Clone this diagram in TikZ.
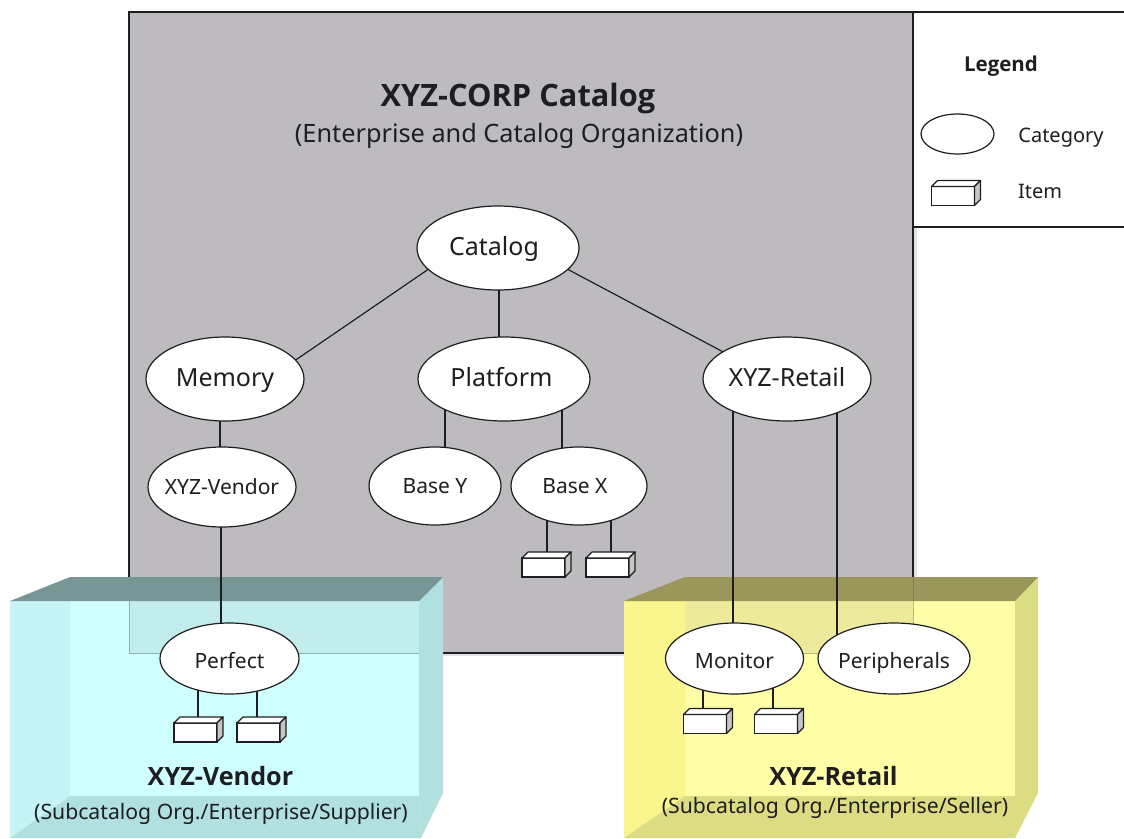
\documentclass[tikz,border=0pt]{standalone}
\usepackage{fontspec}
\setmainfont{Noto Sans}
\newfontfamily\boldface{Open Sans}
\usetikzlibrary{shapes.geometric}
\pgfdeclarelayer{boxes}
\pgfdeclarelayer{conn}
\pgfsetlayers{boxes,conn,main}
\definecolor{ink}{HTML}{1E1E22}
\definecolor{panel}{HTML}{BDBBBE}
\definecolor{cyMain}{HTML}{D0FFFF}
\definecolor{cyLeft}{HTML}{C4F4F5}
\definecolor{cySide}{HTML}{B0E0E0}
\definecolor{cyTop}{HTML}{789696}
\definecolor{cyOver}{HTML}{C3ECEC}
\definecolor{yeMain}{HTML}{FFFFA8}
\definecolor{yeLeft}{HTML}{FAF58C}
\definecolor{yeSide}{HTML}{DCDC82}
\definecolor{yeTop}{HTML}{999759}
\definecolor{yeOver}{HTML}{EDEB9B}
\tikzset{
  cat/.style={ellipse,draw=ink,line width=1.2pt,fill=white,inner sep=0pt,outer sep=0pt,text=ink},
  big/.style={cat,font=\fontsize{25}{28}\selectfont,text height=14pt,text depth=0pt},
  small/.style={cat,font=\fontsize{21}{24}\selectfont,text height=14pt,text depth=0pt},
  low/.style={small,text height=19pt},
  front/.style={rectangle,draw=ink,line width=1.2pt,fill=white,inner sep=0pt,outer sep=0pt,minimum width=43pt,minimum height=19pt},
  link/.style={draw=ink,line width=1.2pt},
  lbl/.style={inner sep=0pt,text=ink,font=\fontsize{21}{24}\selectfont},
  heading/.style={inner sep=0pt,text=ink},
}
\newcommand{\tx}[1]{\makebox[0pt][c]{#1}}
\newcommand{\itembox}[3]{%
  \node[front] (#1) at (#2,#3) {};
  \draw[ink,line width=1.2pt,fill=white,line join=round] (#1.north west) -- ++(6,-6) -- ++(43,0) -- (#1.north east) -- cycle;
  \draw[ink,line width=1.2pt,fill=gray!45,line join=round] (#1.north east) -- ++(6,-6) -- ++(0,19) -- (#1.south east) -- cycle;
}
\begin{document}
\begin{tikzpicture}[x=1pt,y=-1pt]
\useasboundingbox (0,0) rectangle (1124,838);
\begin{pgfonlayer}{boxes}
  \fill[white] (0,0) rectangle (1124,838);
  \fill[gray!22] (135,653) rectangle (917,656);
  \fill[gray!22] (913,227) rectangle (917,600);
  \fill[panel] (129,12) rectangle (913,653);
  \draw[ink,line width=1.2pt] (129,12) rectangle (913,653);
  \draw[ink,line width=1.2pt] (913,12) -- (1124,12) (913,227) -- (1124,227);
  % cyan box
  \fill[cyMain] (70,601) rectangle (419,796);
  \fill[cyOver] (129,601) rectangle (419,653);
  \draw[cyTop!70!cyOver,line width=0.8pt] (129,601) -- (129,653) -- (419,653);
  \fill[cyLeft] (10,601) -- (70,601) -- (70,796) -- (10,838) -- cycle;
  \fill[cySide] (10,838) -- (70,796) -- (419,796) -- (421,838) -- cycle;
  \fill[cySide] (419,601) -- (443,577) -- (443,793) -- (421,838) -- (419,796) -- cycle;
  \fill[cyTop] (10,601) -- (70,577) -- (443,577) -- (419,601) -- cycle;
  % yellow box
  \fill[yeMain] (685,601) rectangle (1015,796);
  \fill[yeOver] (685,601) rectangle (913,653);
  \draw[yeTop!60!yeOver,line width=0.8pt] (685,653) -- (913,653) -- (913,601);
  \fill[yeLeft] (624,601) -- (685,601) -- (685,796) -- (624,838) -- cycle;
  \fill[yeSide] (624,838) -- (685,796) -- (1015,796) -- (1015,838) -- cycle;
  \fill[yeSide] (1015,601) -- (1038,577) -- (1038,793) -- (1015,838) -- cycle;
  \fill[yeTop] (624,601) -- (685,577) -- (1038,577) -- (1015,601) -- cycle;
  \draw[yeTop!85!black,line width=0.8pt] (913,577) -- (913,601);
\end{pgfonlayer}

\node[heading,font=\boldface\fontsize{30.8}{36}\selectfont\bfseries] (title) at (518,98) {XYZ-CORP Catalog};
\node[lbl,font=\fontsize{25.3}{28}\selectfont] (subtitle) at (519,136) {(Enterprise and Catalog Organization)};

\node[big,minimum width=162pt,minimum height=84pt] (catalog) at (498,248) {\tx{Catalog\hspace*{8pt}}};
\node[big,minimum width=158pt,minimum height=84pt] (memory) at (225,379) {\tx{Memory}};
\node[big,minimum width=172pt,minimum height=84pt] (platform) at (504,379) {\tx{Platform\hspace*{5pt}}};
\node[big,minimum width=168pt,minimum height=84pt] (retail) at (787,379) {\tx{XYZ-Retail}};
\node[small,minimum width=148pt,minimum height=80pt] (vendor) at (222,487) {\tx{XYZ-Vendor}};
\node[small,minimum width=132pt,minimum height=78pt] (basey) at (435,486) {\tx{Base Y}};
\node[small,minimum width=136pt,minimum height=78pt] (basex) at (579,486) {\tx{Base X\hspace*{8pt}}};
\node[low,minimum width=139pt,minimum height=71pt] (perfect) at (229.5,658.5) {\tx{Perfect}};
\node[low,minimum width=138pt,minimum height=71pt] (monitor) at (734.5,658.5) {\tx{Monitor}};
\node[low,minimum width=152pt,minimum height=71pt] (peripherals) at (894,658.5) {\tx{Peripherals}};

\itembox{bx1}{543.5}{567.5}
\itembox{bx2}{607.5}{567.5}
\itembox{pf1}{195.5}{732.5}
\itembox{pf2}{258.5}{732.5}
\itembox{mn1}{705}{724}
\itembox{mn2}{776}{724}

\begin{pgfonlayer}{conn}
  \draw[link] (catalog.197) -- (memory.15);
  \draw[link] ([xshift=1pt]catalog.south) -- ([xshift=-5pt]platform.north);
  \draw[link] (catalog.-17) -- (retail.157);
  \draw[link] ([xshift=-5pt]memory.south) -- ([xshift=-2pt]vendor.north);
  \draw[link] ([xshift=-1pt]vendor.south) -- ([xshift=-8.5pt]perfect.north);
  \draw[link] ([xshift=-59pt,yshift=20pt]platform.south) -- ([xshift=10pt,yshift=-15pt]basey.north);
  \draw[link] ([xshift=58pt,yshift=20pt]platform.south) -- ([xshift=-17pt,yshift=-15pt]basex.north);
  \draw[link] ([xshift=-54pt,yshift=20pt]retail.south) -- ([xshift=-1.5pt,yshift=-15pt]monitor.north);
  \draw[link] ([xshift=50pt,yshift=20pt]retail.south) -- ([xshift=-57pt,yshift=-15pt]peripherals.north);
  \draw[link] ([xshift=-32pt,yshift=15pt]basex.south) -- ([xshift=3.5pt]bx1.north);
  \draw[link] ([xshift=32pt,yshift=15pt]basex.south) -- ([xshift=3.5pt]bx2.north);
  \draw[link] ([xshift=-31.5pt,yshift=15pt]perfect.south) -- ([xshift=2.5pt]pf1.north);
  \draw[link] ([xshift=27.5pt,yshift=15pt]perfect.south) -- ([xshift=-1.5pt]pf2.north);
  \draw[link] ([xshift=-31.5pt,yshift=15pt]monitor.south) -- ([xshift=-2pt]mn1.north);
  \draw[link] ([xshift=38.5pt,yshift=15pt]monitor.south) -- ([xshift=-3pt]mn2.north);
\end{pgfonlayer}

\node[heading,font=\boldface\fontsize{25.2}{28}\selectfont\bfseries] (vendortitle) at (220.5,776) {XYZ-Vendor};
\node[lbl,font=\fontsize{21.2}{24}\selectfont] (vendorsub) at (221,814) {(Subcatalog Org./Enterprise/Supplier)};
\node[heading,font=\boldface\fontsize{25.2}{28}\selectfont\bfseries] (retailtitle) at (833.5,776) {XYZ-Retail};
\node[lbl,font=\fontsize{21.2}{24}\selectfont] (retailsub) at (835,808) {(Subcatalog Org./Enterprise/Seller)};

\node[heading,font=\boldface\fontsize{20.5}{24}\selectfont\bfseries] (legend) at (1001,66) {Legend};
\node[cat,minimum width=73pt,minimum height=40pt] (legcat) at (957.5,134) {};
\node[lbl,font=\fontsize{20}{24}\selectfont] (legcattext) at (1061,138) {Category};
\itembox{legitem}{953}{196}
\node[lbl,font=\fontsize{20}{24}\selectfont] (legitemtext) at (1040,191) {Item};
\end{tikzpicture}
\end{document}
